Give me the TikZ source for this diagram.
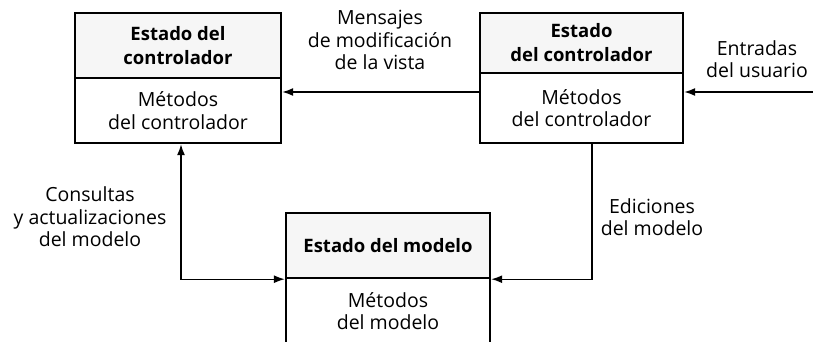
\documentclass[tikz,border=0pt]{standalone}
\usepackage{fontspec}
\setmainfont{Open Sans}
\usetikzlibrary{arrows.meta,calc}
\begin{document}
\begin{tikzpicture}[x=1pt,y=-1pt,
  part/.style={draw,line width=2.4pt,minimum width=#1,inner sep=0pt,align=center},
  statepart/.style={fill=gray!7,font=\fontsize{18.5}{24}\selectfont\bfseries},
  methpart/.style={fill=white,font=\fontsize{19.5}{22.5}\selectfont},
  lbl/.style={align=center,font=\fontsize{19.5}{22.5}\selectfont,inner sep=0pt},
  arr/.style={line width=1.4pt,-{Latex[length=11pt,width=8pt]}},
  arrb/.style={line width=1.4pt,{Latex[length=11pt,width=8pt]}-{Latex[length=11pt,width=8pt]}}]
\useasboundingbox (0,0) rectangle (813,342);
\clip (0,0) rectangle (813,342);
% left box
\node[part=206pt,statepart,minimum height=65pt] (ls) at (178,45.5) {Estado del\\controlador};
\node[part=206pt,methpart,minimum height=65pt] (lm) at (178,110.5) {Métodos\\del controlador};
% right box
\node[part=203pt,statepart,minimum height=60pt] (rs) at (581.5,43) {Estado\\del controlador};
\node[part=203pt,methpart,minimum height=70pt] (rm) at (581.5,108) {Métodos\\del controlador};
% bottom box
\node[part=204pt,statepart,minimum height=65pt] (bs) at (388,245.5) {Estado del modelo};
\node[part=204pt,methpart,minimum height=80pt,text depth=0pt] (bm) at (388,318) {};
\node[lbl] (bmt) at (388,311) {Métodos\\del modelo};
% connectors
\coordinate (in) at (813,92);
\draw[arr] (rm.west |- in) -- (lm.east |- in);
\draw[arr] (in) -- (rm.east |- in);
\draw[arr] (rm.south -| 592,0) |- (bs.south east);
\draw[arrb] (lm.south -| 181,0) |- (bs.south west);
% labels
\node[lbl] (l1) at (380,40) {Mensajes\\de modificación\\de la vista};
\node[lbl] (l2) at (757,59) {Entradas\\del usuario};
\node[lbl] (l3) at (90,217) {Consultas\\y actualizaciones\\del modelo};
\node[lbl] (l4) at (652,217) {Ediciones\\del modelo};
\end{tikzpicture}
\end{document}
